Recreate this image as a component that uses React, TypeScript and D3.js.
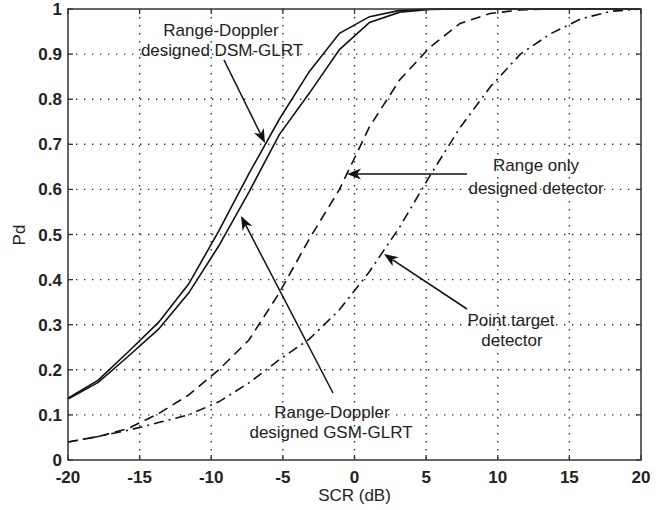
import React from "react";
import * as d3 from "d3";

const scr = [-20, -17.89, -15.79, -13.68, -11.58, -9.47, -7.37, -5.26, -3.16, -1.05, 1.05, 3.16, 5.26, 7.37, 9.47, 11.58, 13.68, 15.79, 17.89, 20];
const dsmGlrt = [0.137, 0.177, 0.24, 0.305, 0.39, 0.508, 0.635, 0.755, 0.861, 0.946, 0.983, 0.997, 1.0, 1, 1, 1, 1, 1, 1, 1];
const gsmGlrt = [0.135, 0.172, 0.23, 0.29, 0.37, 0.475, 0.594, 0.721, 0.813, 0.91, 0.97, 0.993, 0.999, 1, 1, 1, 1, 1, 1, 1];
const rangeOnly = [0.04, 0.052, 0.07, 0.103, 0.144, 0.2, 0.266, 0.37, 0.49, 0.6, 0.739, 0.843, 0.915, 0.968, 0.99, 0.998, 1, 1, 1, 1];
const pointTarget = [0.04, 0.052, 0.066, 0.083, 0.1, 0.129, 0.171, 0.222, 0.268, 0.333, 0.418, 0.517, 0.63, 0.737, 0.827, 0.9, 0.945, 0.978, 0.995, 1.0];

const xTicks = [-20, -15, -10, -5, 0, 5, 10, 15, 20];
const yTicks = [0, 0.1, 0.2, 0.3, 0.4, 0.5, 0.6, 0.7, 0.8, 0.9, 1];
const xLabel = "SCR (dB)";
const yLabel = "Pd";

const W = 664, H = 510;
const L = 68, R = 641, T = 9, B = 460;

const x = d3.scaleLinear().domain([-20, 20]).range([L, R]);
const y = d3.scaleLinear().domain([0, 1]).range([B, T]);

const series = [
  { values: dsmGlrt, dash: "none" },
  { values: gsmGlrt, dash: "none" },
  { values: rangeOnly, dash: "10,6" },
  { values: pointTarget, dash: "10,5,2,5" },
];

const line = d3.line<number>().x((_, i) => x(scr[i])).y((v) => y(v));

function Arrow({ x1, y1, x2, y2 }: { x1: number; y1: number; x2: number; y2: number }) {
  const ang = Math.atan2(y2 - y1, x2 - x1);
  const len = 14, hw = 5.5, notch = 4;
  const c = Math.cos(ang), s = Math.sin(ang);
  const bx = x2 - len * c, by = y2 - len * s;
  const nx = x2 - (len - notch) * c, ny = y2 - (len - notch) * s;
  const p1 = [bx - hw * s, by + hw * c];
  const p2 = [bx + hw * s, by - hw * c];
  return (
    <g>
      <line x1={x1} y1={y1} x2={nx} y2={ny} stroke="#111" strokeWidth={1.5} />
      <path d={`M${x2},${y2}L${p1[0]},${p1[1]}L${nx},${ny}L${p2[0]},${p2[1]}Z`} fill="#111" />
    </g>
  );
}

const annoStyle: React.CSSProperties = { fontFamily: "Liberation Sans, Arial, sans-serif", fontSize: 17, fill: "#222" };
const tickStyle: React.CSSProperties = { fontFamily: "Liberation Sans, Arial, sans-serif", fontSize: 17, fontWeight: "bold", fill: "#222" };

export default function App() {
  return (
    <svg width={W} height={H} style={{ position: "absolute", left: 0, top: 0, background: "#fff" }}>
      <rect x={0} y={0} width={W} height={H} fill="#fff" />
      {xTicks.slice(1, -1).map((t) => (
        <line key={"gx" + t} x1={x(t)} x2={x(t)} y1={T} y2={B} stroke="#333" strokeWidth={1.4} strokeDasharray="1.4,6.6" />
      ))}
      {yTicks.slice(1, -1).map((t) => (
        <line key={"gy" + t} x1={L} x2={R} y1={y(t)} y2={y(t)} stroke="#333" strokeWidth={1.4} strokeDasharray="1.4,6.6" />
      ))}
      {series.map((s, i) => (
        <path key={i} d={line(s.values) || ""} fill="none" stroke="#111" strokeWidth={1.6} strokeDasharray={s.dash} />
      ))}
      <rect x={L} y={T} width={R - L} height={B - T} fill="none" stroke="#333" strokeWidth={1.5} />
      {xTicks.map((t) => (
        <g key={"tx" + t}>
          <line x1={x(t)} x2={x(t)} y1={B} y2={B - 5} stroke="#333" strokeWidth={1.3} />
          <line x1={x(t)} x2={x(t)} y1={T} y2={T + 5} stroke="#333" strokeWidth={1.3} />
          <text x={x(t)} y={483} textAnchor="middle" style={tickStyle}>{String(t)}</text>
        </g>
      ))}
      {yTicks.map((t) => (
        <g key={"ty" + t}>
          <line x1={L} x2={L + 5} y1={y(t)} y2={y(t)} stroke="#333" strokeWidth={1.3} />
          <line x1={R} x2={R - 5} y1={y(t)} y2={y(t)} stroke="#333" strokeWidth={1.3} />
          <text x={62} y={y(t) + 6} textAnchor="end" style={tickStyle}>{String(t)}</text>
        </g>
      ))}
      <text x={(L + R) / 2} y={501} textAnchor="middle" style={annoStyle}>{xLabel}</text>
      <text transform={`translate(25,235) rotate(-90)`} textAnchor="middle" style={annoStyle}>{yLabel}</text>
      <text x={221} y={36} textAnchor="middle" style={annoStyle}>Range-Doppler</text>
      <text x={222} y={56} textAnchor="middle" style={annoStyle}>designed DSM-GLRT</text>
      <Arrow x1={224} y1={60} x2={265} y2={143} />
      <text x={536} y={171} textAnchor="middle" style={annoStyle}>Range only</text>
      <text x={536} y={194} textAnchor="middle" style={annoStyle}>designed detector</text>
      <Arrow x1={467} y1={174} x2={347} y2={174} />
      <text x={511} y={326} textAnchor="middle" style={annoStyle}>Point target</text>
      <text x={512} y={346} textAnchor="middle" style={annoStyle}>detector</text>
      <Arrow x1={467} y1={309} x2={384} y2={254} />
      <text x={332} y={418} textAnchor="middle" style={annoStyle}>Range-Doppler</text>
      <text x={331} y={438} textAnchor="middle" style={annoStyle}>designed GSM-GLRT</text>
      <Arrow x1={333} y1={393} x2={241} y2={216} />
    </svg>
  );
}
